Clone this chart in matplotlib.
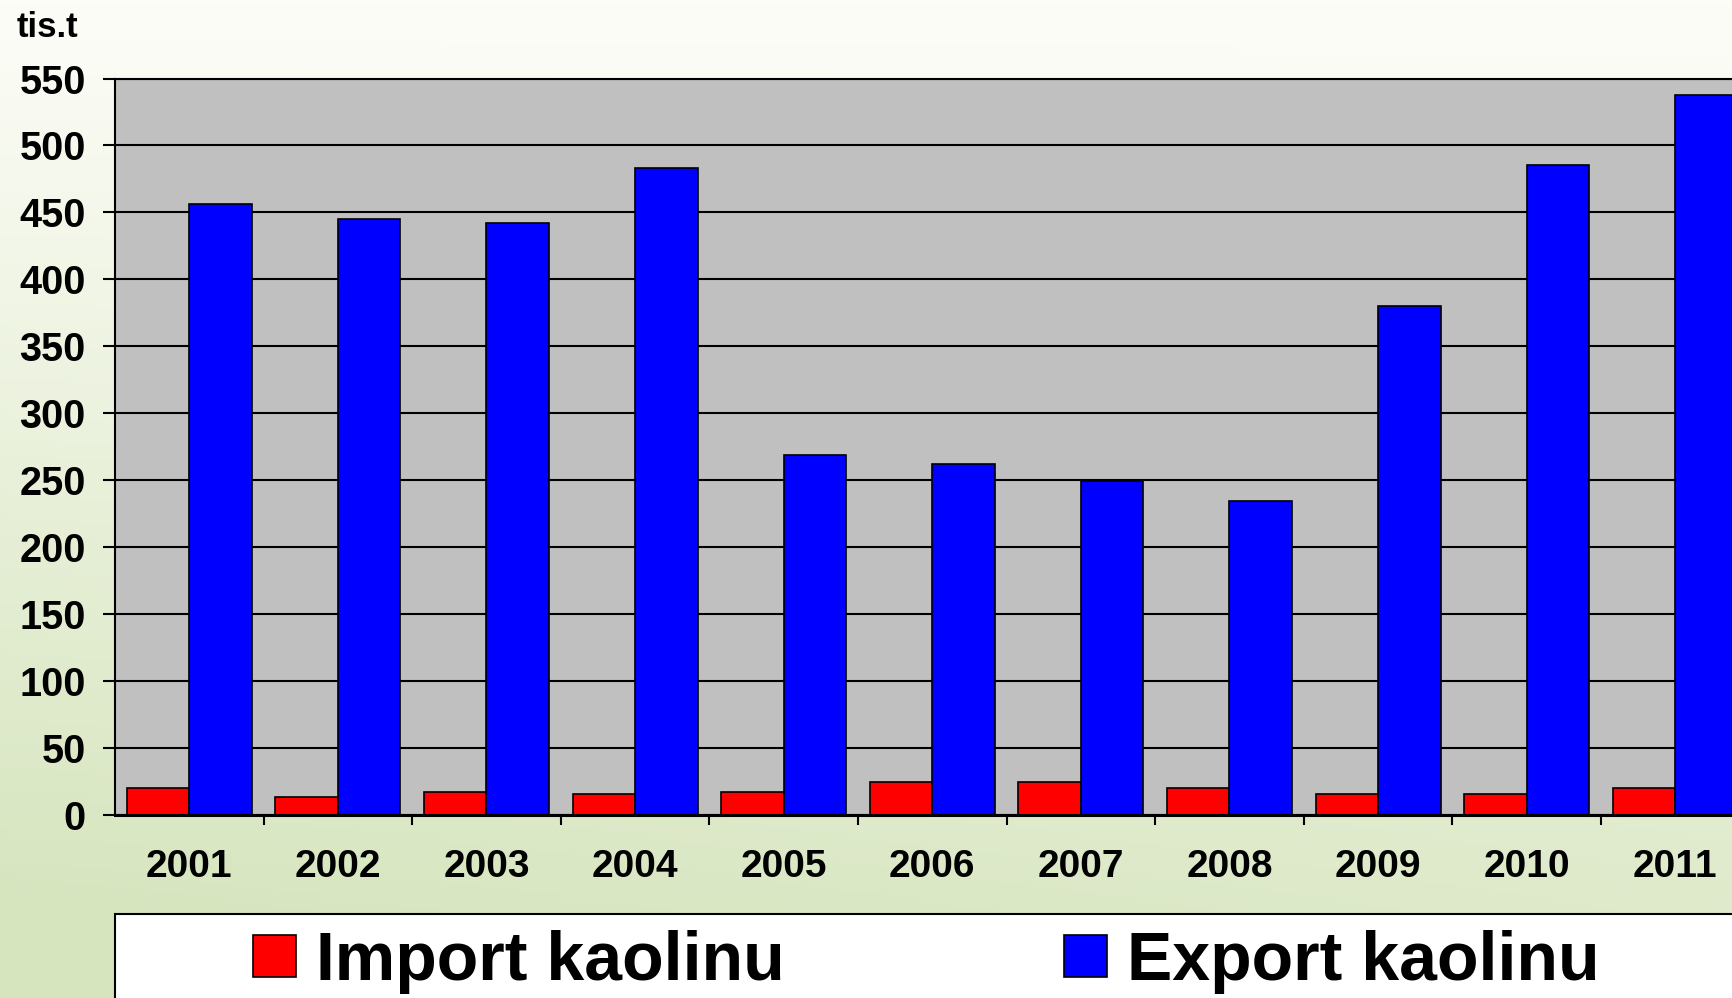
import numpy as np
import matplotlib.pyplot as plt
from matplotlib.patches import Rectangle

plt.rcParams['font.family'] = ['Liberation Sans', 'DejaVu Sans']
plt.rcParams['font.weight'] = 'bold'

years = ['2001', '2002', '2003', '2004', '2005', '2006', '2007', '2008', '2009', '2010', '2011']
import_kaolin = [20, 13, 17, 15, 17, 24, 24, 20, 15, 15, 20]
export_kaolin = [456, 445, 442, 483, 269, 262, 249, 234, 380, 485, 538]

W, H = 1733, 998
fig = plt.figure(figsize=(W / 100, H / 100), dpi=100)

# background gradient: near white at the top, pale green towards bottom-left
yy, xx = np.mgrid[0:1:200j, 0:1:200j]
t = np.clip(0.85 * yy + 0.25 * (1 - xx) * yy, 0, 1)
top = np.array([253, 253, 248]) / 255
bot = np.array([214, 229, 190]) / 255
grad = top + t[..., None] * (bot - top)
bg = fig.add_axes([0, 0, 1, 1])
bg.imshow(grad, aspect='auto', extent=[0, 1, 0, 1], origin='upper')
bg.axis('off')

left, right, top_px, bottom_px = 115, W, 78.5, 814.5
ax = fig.add_axes([left / W, 1 - bottom_px / H, (right - left) / W, (bottom_px - top_px) / H])
ax.set_facecolor('#c0c0c0')

x = np.arange(len(years))
w = 0.42
b1 = ax.bar(x - w / 2, import_kaolin, w, color='#ff0000', edgecolor='black', linewidth=1.2, label='Import kaolinu')
b2 = ax.bar(x + w / 2, export_kaolin, w, color='#0000ff', edgecolor='black', linewidth=1.2, label='Export kaolinu')

ax.set_yticks(np.arange(0, 551, 50))
ax.set_xticks(x)
ax.set_xticklabels(years)
ax.set_xticks(x[:-1] + 0.5, minor=True)
ax.set_ylim(0, 550)
ax.set_xlim(-0.5, -0.5 + (right - left) / 148.6)
ax.tick_params(axis='x', which='major', length=0, pad=25, labelsize=28)
ax.tick_params(axis='x', which='minor', length=7, width=1.5, direction='out')
ax.tick_params(axis='y', length=9, width=1.5, pad=12, labelsize=28.5)
for lab in ax.get_xticklabels() + ax.get_yticklabels():
    lab.set_fontweight('bold')

ax.set_axisbelow(True)
ax.yaxis.grid(True, color='black', linewidth=1.5)
ax.spines['right'].set_visible(False)
ax.spines['top'].set_linewidth(1.5)
ax.spines['left'].set_linewidth(1.5)
ax.spines['bottom'].set_linewidth(2.2)

fig.text(17 / W, 1 - 37 / H, 'tis.t', fontsize=25, fontweight='bold', ha='left', va='baseline')

# legend box
fig.patches.append(Rectangle((left / W, -0.02), 1, (H - 914) / H + 0.02, transform=fig.transFigure,
                             facecolor='white', edgecolor='black', linewidth=1.5, zorder=1))
fig.legend(handles=[b1, b2], loc='center left', bbox_to_anchor=(253 / W, 1 - 962 / H),
           ncol=2, frameon=False, borderpad=0, borderaxespad=0,
           prop={'weight': 'bold', 'size': 49},
           handlelength=0.63, handleheight=0.56, handletextpad=0.3, columnspacing=4.1)

fig.savefig('out.png', dpi=100)
